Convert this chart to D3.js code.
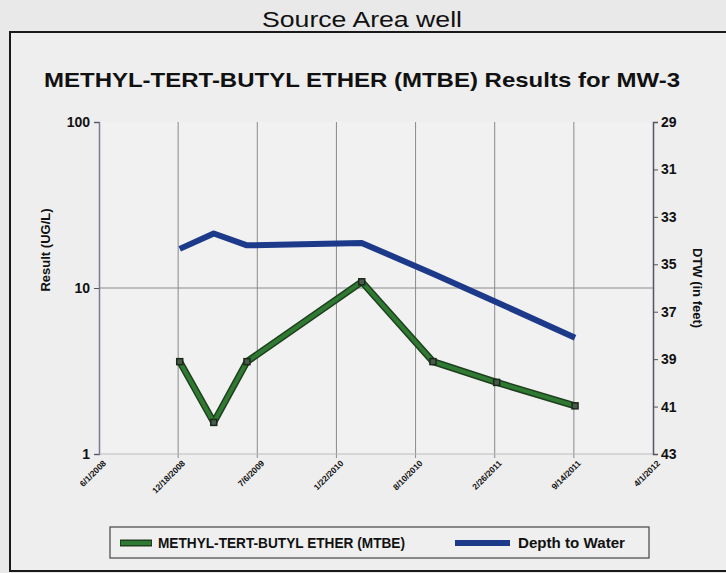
<!DOCTYPE html>
<html>
<head>
<meta charset="utf-8">
<script src="https://cdn.jsdelivr.net/npm/d3@7"></script>
<style>
  html, body { margin: 0; padding: 0; background: #e9e9e9; }
  svg { display: block; }
  text { font-family: "Liberation Sans", Arial, sans-serif; }
</style>
</head>
<body>
<svg id="chart" width="726" height="573"></svg>
<script>
// ---- Data ----
const xTickLabels = ["6/1/2008", "12/18/2008", "7/6/2009", "1/22/2010", "8/10/2010", "2/26/2011", "9/14/2011", "4/1/2012"];
const sampleDates = ["12/22/2008", "3/18/2009", "6/10/2009", "3/27/2010", "9/23/2010", "3/3/2011", "9/17/2011"];
const mtbeValues = [3.6, 1.55, 3.6, 10.9, 3.6, 2.7, 1.95];
const dtwValues = [34.35, 33.7, 34.2, 34.1, 35.4, 36.6, 38.1];
const leftTicks = [1, 10, 100];
const rightTicks = [29, 31, 33, 35, 37, 39, 41, 43];

const parse = d3.timeParse("%m/%d/%Y");
const fmt = d => `${d.getMonth() + 1}/${d.getDate()}/${d.getFullYear()}`;

const svg = d3.select("#chart");
const L = 99, R = 653, T = 122, B = 454;

// frame
svg.append("rect").attr("x", 0).attr("y", 0).attr("width", 726).attr("height", 573).attr("fill", "#e9e9e9");
svg.append("rect").attr("x", 10).attr("y", 32).attr("width", 740).attr("height", 539)
  .attr("fill", "#eeeeee").attr("stroke", "#1a1a1a").attr("stroke-width", 2);

svg.append("text").attr("x", 362).attr("y", 27).attr("text-anchor", "middle")
  .attr("font-size", 22).attr("fill", "#111").attr("textLength", 200).attr("lengthAdjust", "spacingAndGlyphs")
  .text("Source Area well");

svg.append("text").attr("x", 362).attr("y", 87).attr("text-anchor", "middle")
  .attr("font-size", 21).attr("font-weight", "bold").attr("fill", "#111")
  .attr("textLength", 636).attr("lengthAdjust", "spacingAndGlyphs")
  .text("METHYL-TERT-BUTYL ETHER (MTBE) Results for MW-3");

// scales
const x = d3.scaleTime().domain([parse(xTickLabels[0]), parse(xTickLabels[xTickLabels.length - 1])]).range([L, R]);
const yL = d3.scaleLog().domain([1, 100]).range([B, T]);
const yR = d3.scaleLinear().domain([29, 43]).range([T, B]);

// plot background
svg.append("rect").attr("x", L).attr("y", T).attr("width", R - L).attr("height", B - T).attr("fill", "#f1f1f1");

// gridlines
const xTickDates = xTickLabels.map(parse);
svg.append("g").selectAll("line").data(xTickDates.slice(1, -1)).join("line")
  .attr("x1", d => x(d)).attr("x2", d => x(d)).attr("y1", T).attr("y2", B + 4)
  .attr("stroke", "#8a8a8a").attr("stroke-width", 1);
svg.append("g").selectAll("line").data(leftTicks.slice(1, -1)).join("line")
  .attr("x1", L).attr("x2", R).attr("y1", d => yL(d)).attr("y2", d => yL(d))
  .attr("stroke", "#8a8a8a").attr("stroke-width", 1);
svg.append("line").attr("x1", L).attr("x2", R).attr("y1", B).attr("y2", B).attr("stroke", "#bbb");

// left axis
const gl = svg.append("g").attr("transform", `translate(${L},0)`)
  .call(d3.axisLeft(yL).tickValues(leftTicks).tickFormat(d3.format("d")).tickSize(5).tickPadding(4));
gl.select(".domain").attr("stroke", "#7a7a9a").attr("stroke-width", 1.5);
gl.selectAll(".tick line").attr("stroke", "#555");
gl.selectAll("text").attr("font-size", 14).attr("font-weight", "bold").attr("fill", "#111")
  .attr("font-family", "Liberation Sans, Arial, sans-serif");

// right axis
const gr = svg.append("g").attr("transform", `translate(${R},0)`)
  .call(d3.axisRight(yR).tickValues(rightTicks).tickSize(5).tickPadding(3));
gr.select(".domain").attr("stroke", "#556").attr("stroke-width", 1.5);
gr.selectAll(".tick line").attr("stroke", "#555");
gr.selectAll("text").attr("font-size", 14).attr("font-weight", "bold").attr("fill", "#111")
  .attr("font-family", "Liberation Sans, Arial, sans-serif");

// x axis labels
const gx = svg.append("g").attr("transform", `translate(0,${B})`)
  .call(d3.axisBottom(x).tickValues(xTickDates).tickFormat(fmt).tickSize(0).tickPadding(6));
gx.select(".domain").remove();
gx.selectAll("text").attr("font-size", 8.5).attr("font-weight", "bold").attr("fill", "#111")
  .attr("font-family", "Liberation Sans, Arial, sans-serif")
  .attr("text-anchor", "end").attr("dx", "-2").attr("dy", "6")
  .attr("transform", "rotate(-45)");

// axis titles
svg.append("text").attr("transform", "translate(50,250) rotate(-90)").attr("text-anchor", "middle")
  .attr("font-size", 13).attr("font-weight", "bold").attr("fill", "#111").text("Result (UG/L)");
svg.append("text").attr("transform", "translate(693,288) rotate(90)").attr("text-anchor", "middle")
  .attr("font-size", 13).attr("font-weight", "bold").attr("fill", "#111").text("DTW (in feet)");

// series
const dates = sampleDates.map(parse);
const dtwLine = d3.line().x((d, i) => x(dates[i])).y(d => yR(d));
const mtbeLine = d3.line().x((d, i) => x(dates[i])).y(d => yL(d));

svg.append("path").datum(dtwValues).attr("d", dtwLine).attr("fill", "none")
  .attr("stroke", "#1d3a8a").attr("stroke-width", 6).attr("stroke-linejoin", "round");

svg.append("path").datum(mtbeValues).attr("d", mtbeLine).attr("fill", "none")
  .attr("stroke", "#1f3f1f").attr("stroke-width", 7).attr("stroke-linejoin", "round");
svg.append("path").datum(mtbeValues).attr("d", mtbeLine).attr("fill", "none")
  .attr("stroke", "#2f7a32").attr("stroke-width", 4).attr("stroke-linejoin", "round");
svg.append("g").selectAll("rect").data(mtbeValues).join("rect")
  .attr("x", (d, i) => x(dates[i]) - 3).attr("y", d => yL(d) - 3)
  .attr("width", 6).attr("height", 6).attr("fill", "#4a5a4a").attr("stroke", "#1a2a1a").attr("stroke-width", 1.5);

// legend
const lg = svg.append("g");
lg.append("rect").attr("x", 110).attr("y", 527).attr("width", 539).attr("height", 31)
  .attr("fill", "#efefef").attr("stroke", "#444").attr("stroke-width", 1.2);
lg.append("line").attr("x1", 120).attr("x2", 152).attr("y1", 543).attr("y2", 543)
  .attr("stroke", "#1f3f1f").attr("stroke-width", 7);
lg.append("line").attr("x1", 121).attr("x2", 151).attr("y1", 543).attr("y2", 543)
  .attr("stroke", "#2f7a32").attr("stroke-width", 4);
lg.append("text").attr("x", 158).attr("y", 548).attr("font-size", 14).attr("font-weight", "bold")
  .attr("fill", "#111").attr("textLength", 247).attr("lengthAdjust", "spacingAndGlyphs")
  .text("METHYL-TERT-BUTYL ETHER (MTBE)");
lg.append("line").attr("x1", 455).attr("x2", 510).attr("y1", 543).attr("y2", 543)
  .attr("stroke", "#1d3a8a").attr("stroke-width", 6);
lg.append("text").attr("x", 518).attr("y", 548).attr("font-size", 14).attr("font-weight", "bold")
  .attr("fill", "#111").attr("textLength", 107).attr("lengthAdjust", "spacingAndGlyphs")
  .text("Depth to Water");
</script>
</body>
</html>
